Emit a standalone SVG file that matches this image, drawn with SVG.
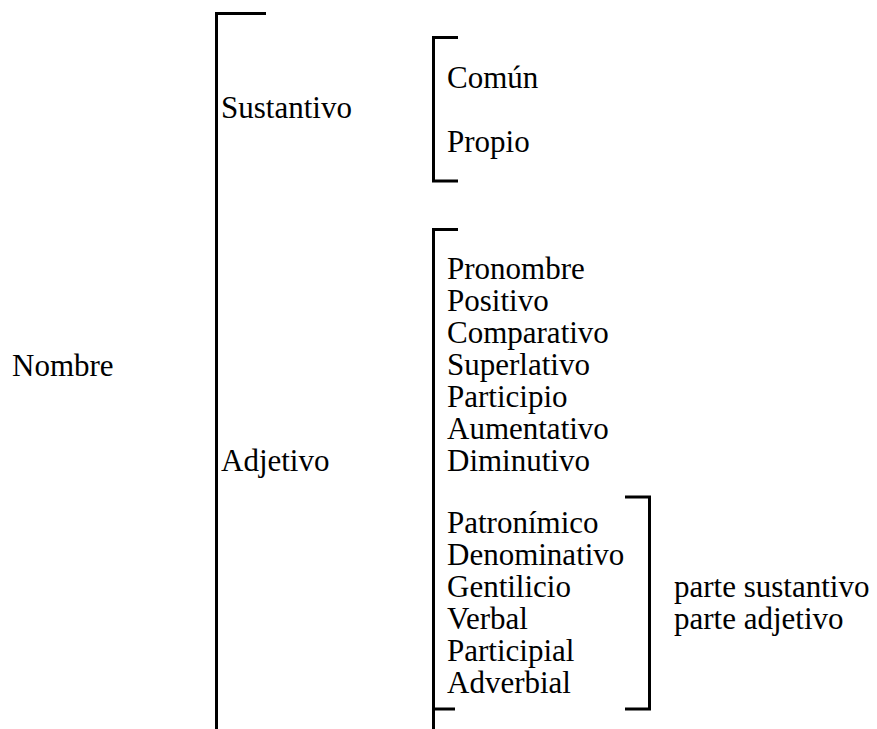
<svg xmlns="http://www.w3.org/2000/svg" width="877" height="729" viewBox="0 0 877 729">
<style>
.t{font-family:'Liberation Serif','DejaVu Serif','Noto Serif',serif;font-size:31px;fill:#000}
.b{fill:none;stroke:#000;stroke-width:3}
</style>
<rect width="877" height="729" fill="#fff"/>
<g id="connectors">
<path class="b" d="M266,13.5 H216.5 V729"/>
<path class="b" d="M458,37.5 H433.5 V181 H458"/>
<path class="b" d="M458,229.5 H433.5 V729"/>
<path class="b" d="M433.5,709 H455"/>
<path class="b" d="M625,497 H649.5 V709 H625"/>
</g>
<g class="t">
<g id="nombre"><text x="12" y="376">Nombre</text></g>
<g id="sustantivo"><text x="221" y="118">Sustantivo</text></g>
<g id="sustantivo-tipos"><text x="447" y="88">Común</text><text x="447" y="152">Propio</text></g>
<g id="adjetivo"><text x="221" y="471">Adjetivo</text></g>
<g id="adjetivo-tipos">
<text x="447" y="279">Pronombre</text>
<text x="447" y="311">Positivo</text>
<text x="447" y="343">Comparativo</text>
<text x="447" y="375">Superlativo</text>
<text x="447" y="407">Participio</text>
<text x="447" y="439">Aumentativo</text>
<text x="447" y="471">Diminutivo</text>
</g>
<g id="adjetivo-derivados">
<text x="447" y="533">Patronímico</text>
<text x="447" y="565">Denominativo</text>
<text x="447" y="597">Gentilicio</text>
<text x="447" y="629">Verbal</text>
<text x="447" y="661">Participial</text>
<text x="447" y="693">Adverbial</text>
</g>
<g id="parte"><text x="674" y="597">parte sustantivo</text><text x="674" y="629">parte adjetivo</text></g>
</g>
</svg>
